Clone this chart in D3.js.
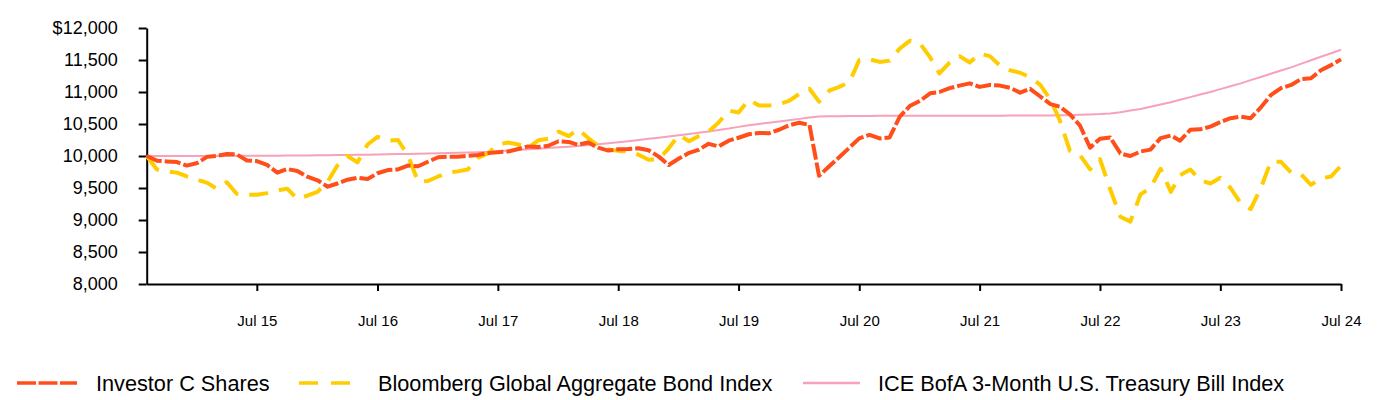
<!DOCTYPE html>
<html>
<head>
<meta charset="utf-8">
<script src="https://cdn.jsdelivr.net/npm/d3@7"></script>
<style>
  body { margin: 0; background: #fff; }
  svg { display: block; font-family: Arial, "Liberation Sans", sans-serif; }
  .axis path, .axis line { stroke: #000; stroke-width: 2px; }
  .axis text { fill: #000; }
</style>
</head>
<body>
<svg width="1384" height="400"></svg>
<script>
// monthly values, Aug 2014 .. Jul 2024
const firstMonth = new Date(2014, 7, 1);

const investorC = [
  10000, 9927, 9915, 9905, 9850, 9890, 9990, 10000, 10030, 10025, 9930, 9920,
  9860, 9740, 9797, 9766, 9677, 9620, 9520, 9570, 9630, 9660, 9640, 9730,
  9780, 9790, 9850, 9840, 9910, 9980, 9990, 9990, 10005, 10015, 10045, 10060,
  10070, 10110, 10150, 10140, 10160, 10230, 10220, 10175, 10210, 10130, 10085, 10105,
  10110, 10120, 10090, 9990, 9860, 9960, 10050, 10095, 10190, 10150, 10240, 10285,
  10340, 10360, 10355, 10410, 10480, 10520, 10485, 9690, 9840, 9980, 10130, 10275,
  10330, 10275, 10290, 10615, 10780, 10860, 10980, 11000, 11060, 11100, 11135, 11080,
  11110, 11100, 11065, 10990, 11050, 10930, 10810, 10770, 10650, 10480, 10130, 10270,
  10290, 10040, 10000, 10070, 10100, 10280, 10320, 10240, 10410, 10417, 10460, 10530,
  10590, 10615, 10590, 10760, 10950, 11060, 11110, 11200, 11215, 11340, 11420, 11510
];

const bloombergAgg = [
  10000, 9790, 9760, 9740, 9680, 9630, 9580, 9490, 9590, 9410, 9395, 9395,
  9420, 9460, 9490, 9330, 9380, 9440, 9600, 9850, 10000, 9900, 10180, 10300,
  10240, 10250, 10015, 9600, 9610, 9680, 9740, 9760, 9790, 9970, 10040, 10180,
  10210, 10180, 10130, 10245, 10270, 10380, 10310, 10420, 10280, 10160, 10100, 10080,
  10070, 10020, 9940, 9950, 10120, 10330, 10230, 10310, 10380, 10520, 10710, 10680,
  10880, 10790, 10790, 10810, 10860, 10970, 11050, 10850, 11020, 11080, 11150, 11500,
  11510, 11470, 11490, 11680, 11800, 11760, 11540, 11290, 11460, 11560, 11460, 11600,
  11560, 11410, 11340, 11300, 11230, 11110, 10880, 10560, 10080, 10015, 9790, 9950,
  9480, 9050, 8975, 9400, 9500, 9800, 9440, 9700, 9790, 9620, 9570, 9660,
  9500, 9260, 9170, 9500, 9910, 9910, 9740, 9720, 9550, 9650, 9680, 9850
];

const tBill = [
  10000, 10000, 10000, 10000, 10000, 10000, 10000, 10000, 10001, 10002, 10002, 10003,
  10004, 10005, 10006, 10007, 10009, 10011, 10013, 10015, 10017, 10019, 10021, 10024,
  10027, 10030, 10033, 10036, 10039, 10043, 10047, 10051, 10055, 10060, 10065, 10075,
  10085, 10095, 10105, 10115, 10125, 10135, 10145, 10157, 10170, 10183, 10198, 10215,
  10232, 10250, 10268, 10287, 10306, 10325, 10344, 10363, 10383, 10405, 10428, 10455,
  10480, 10500, 10520, 10540, 10560, 10580, 10600, 10618, 10620, 10622, 10624, 10625,
  10626, 10627, 10627, 10627, 10628, 10628, 10628, 10629, 10629, 10629, 10630, 10630,
  10630, 10630, 10631, 10631, 10631, 10632, 10633, 10635, 10638, 10643, 10650, 10655,
  10665, 10685, 10710, 10735, 10770, 10805, 10840, 10880, 10920, 10960, 11000, 11045,
  11090, 11135, 11185, 11235, 11285, 11335, 11385, 11440, 11495, 11550, 11605, 11660
];

const yTicks = [8000, 8500, 9000, 9500, 10000, 10500, 11000, 11500, 12000];
const xTickYears = [2015, 2016, 2017, 2018, 2019, 2020, 2021, 2022, 2023, 2024];
const seriesNames = ["Investor C Shares", "Bloomberg Global Aggregate Bond Index", "ICE BofA 3-Month U.S. Treasury Bill Index"];

const months = investorC.map((d, i) => new Date(firstMonth.getFullYear(), firstMonth.getMonth() + i, 1));

const svg = d3.select("svg");

const x = d3.scaleTime()
    .domain([months[0], months[months.length - 1]])
    .range([146.7, 1341]);

const y = d3.scaleLinear()
    .domain([8000, 12000])
    .range([284, 28]);

const fmt = d3.format(",");

svg.append("g")
    .attr("class", "axis")
    .attr("transform", "translate(146.7,0)")
    .call(d3.axisLeft(y).tickValues(yTicks).tickSize(8).tickSizeOuter(0).tickPadding(21)
        .tickFormat(d => d === 12000 ? "$" + fmt(d) : fmt(d)))
    .selectAll("text").style("font-size", "18px");

svg.append("g")
    .attr("class", "axis")
    .attr("transform", "translate(0,284)")
    .call(d3.axisBottom(x).tickValues(xTickYears.map(yr => new Date(yr, 6, 1))).tickSize(7).tickSizeOuter(0).tickPadding(24)
        .tickFormat(d => "Jul " + String(d.getFullYear()).slice(2)))
    .selectAll("text").style("font-size", "15px");

const line = d3.line()
    .x((d, i) => x(months[i]))
    .y(d => y(d));

const styles = [
    {data: tBill, color: "#F7A1BA", width: 2, dash: null},
    {data: bloombergAgg, color: "#FFCC00", width: 4, dash: "19,11"},
    {data: investorC, color: "#FF4E1A", width: 4, dash: "16,3"}
];

styles.forEach(s => {
    svg.append("path")
        .datum(s.data)
        .attr("fill", "none")
        .attr("stroke", s.color)
        .attr("stroke-width", s.width)
        .attr("stroke-dasharray", s.dash)
        .attr("stroke-linejoin", "round")
        .attr("d", line);
});

// legend
const legend = [
    {name: seriesNames[0], color: "#FF4E1A", width: 3.5, dash: "19,2.5", x0: 17, x1: 77, tx: 96},
    {name: seriesNames[1], color: "#FFCC00", width: 3.5, dash: "19,13", x0: 299, x1: 351, tx: 378},
    {name: seriesNames[2], color: "#F7A1BA", width: 2.5, dash: null, x0: 803, x1: 860, tx: 878}
];

const lg = svg.append("g");
legend.forEach(l => {
    lg.append("line")
        .attr("x1", l.x0).attr("x2", l.x1)
        .attr("y1", 383).attr("y2", 383)
        .attr("stroke", l.color)
        .attr("stroke-width", l.width)
        .attr("stroke-dasharray", l.dash);
    lg.append("text")
        .attr("x", l.tx).attr("y", 391)
        .style("font-size", "21.7px")
        .attr("fill", "#000")
        .text(l.name);
});
</script>
</body>
</html>
